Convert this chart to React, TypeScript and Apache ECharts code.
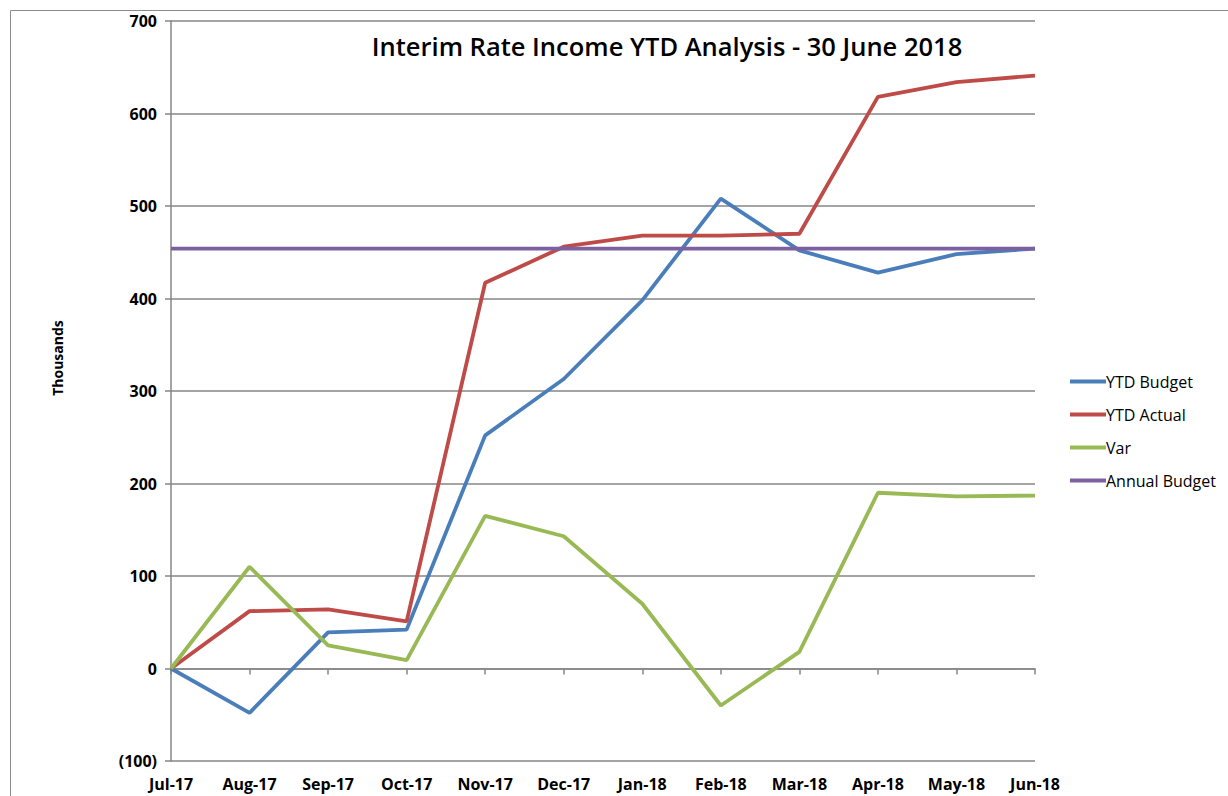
import React, { useEffect, useRef } from "react";
import * as echarts from "echarts";

const categories = ["Jul-17", "Aug-17", "Sep-17", "Oct-17", "Nov-17", "Dec-17", "Jan-18", "Feb-18", "Mar-18", "Apr-18", "May-18", "Jun-18"];
const ytdBudget = [0, -48, 39, 42, 252, 313, 398, 508, 452, 428, 448, 454];
const ytdActual = [0, 62, 64, 51, 417, 456, 468, 468, 470, 618, 634, 641];
const variance = [0, 110, 25, 9, 165, 143, 70, -40, 18, 190, 186, 187];
const annualBudget = [454, 454, 454, 454, 454, 454, 454, 454, 454, 454, 454, 454];

const FONT = "'Open Sans', 'Noto Sans', sans-serif";

export default function App() {
  const ref = useRef<HTMLDivElement>(null);
  useEffect(() => {
    if (!ref.current) return;
    const chart = echarts.init(ref.current, undefined, { renderer: "svg" });
    const lineSeries = (name: string, data: number[], color: string) => ({
      name,
      type: "line",
      data,
      xAxisIndex: 0,
      showSymbol: false,
      symbol: "none",
      lineStyle: { color, width: 3.8 },
      itemStyle: { color },
    });
    chart.setOption({
      animation: false,
      backgroundColor: "#ffffff",
      textStyle: { fontFamily: FONT },
      title: {
        text: "Interim Rate Income YTD Analysis - 30 June 2018",
        left: 662,
        top: 28,
        textAlign: "center",
        textStyle: { fontFamily: FONT, fontSize: 25.5, fontWeight: 600, color: "#000" },
      },
      graphic: [
        {
          type: "rect",
          shape: { x: 10.5, y: 10.5, width: 1400, height: 1000 },
          style: { fill: "none", stroke: "#8c8c8c", lineWidth: 1 },
          silent: true,
        },
        {
          type: "text",
          x: 57,
          y: 358,
          rotation: Math.PI / 2,
          style: {
            text: "Thousands",
            fontFamily: FONT,
            fontSize: 14,
            fontWeight: "bold",
            fill: "#000",
            align: "center",
            verticalAlign: "middle",
          },
          silent: true,
        },
      ],
      legend: {
        orient: "vertical",
        left: 1065,
        top: 367,
        icon: "rect",
        itemWidth: 36,
        itemHeight: 4,
        itemGap: 14,
        textStyle: { fontFamily: FONT, fontSize: 16, color: "#000", lineHeight: 19, padding: [0, 0, 0, -5] },
        data: ["YTD Budget", "YTD Actual", "Var", "Annual Budget"],
      },
      grid: { left: 171, right: 193, top: 21, bottom: 35, containLabel: false },
      xAxis: [
        {
          type: "category",
          data: categories,
          boundaryGap: false,
          position: "bottom",
          axisLine: { onZero: false, show: false },
          axisTick: { show: false },
          axisLabel: { fontFamily: FONT, fontSize: 16, fontWeight: "bold", color: "#000", margin: 15 },
          splitLine: { show: false },
        },
        {
          type: "category",
          data: categories,
          boundaryGap: false,
          position: "bottom",
          axisLine: { onZero: true, show: true, lineStyle: { color: "#868686", width: 1.5 } },
          axisTick: { show: true, length: 6, lineStyle: { color: "#868686", width: 1.5 } },
          axisLabel: { show: false },
          splitLine: { show: false },
        },
      ],
      yAxis: {
        type: "value",
        min: -100,
        max: 700,
        interval: 100,
        axisLine: { show: true, lineStyle: { color: "#868686", width: 1.5 } },
        axisTick: { show: true, length: 6, lineStyle: { color: "#868686", width: 1.5 } },
        axisLabel: {
          fontFamily: FONT,
          fontSize: 16,
          fontWeight: "bold",
          color: "#000",
          margin: 14,
          formatter: (v: number) => (v < 0 ? `(${-v})` : `${v}`),
        },
        splitLine: { show: true, lineStyle: { color: "#868686", width: 1.5 } },
      },
      series: [
        lineSeries("YTD Budget", ytdBudget, "#4A7EBB"),
        lineSeries("YTD Actual", ytdActual, "#BE4B48"),
        lineSeries("Var", variance, "#98B954"),
        lineSeries("Annual Budget", annualBudget, "#7D60A0"),
      ],
    });
    return () => chart.dispose();
  }, []);
  return <div ref={ref} style={{ position: "fixed", left: 0, top: 0, width: 1228, height: 796 }} />;
}
